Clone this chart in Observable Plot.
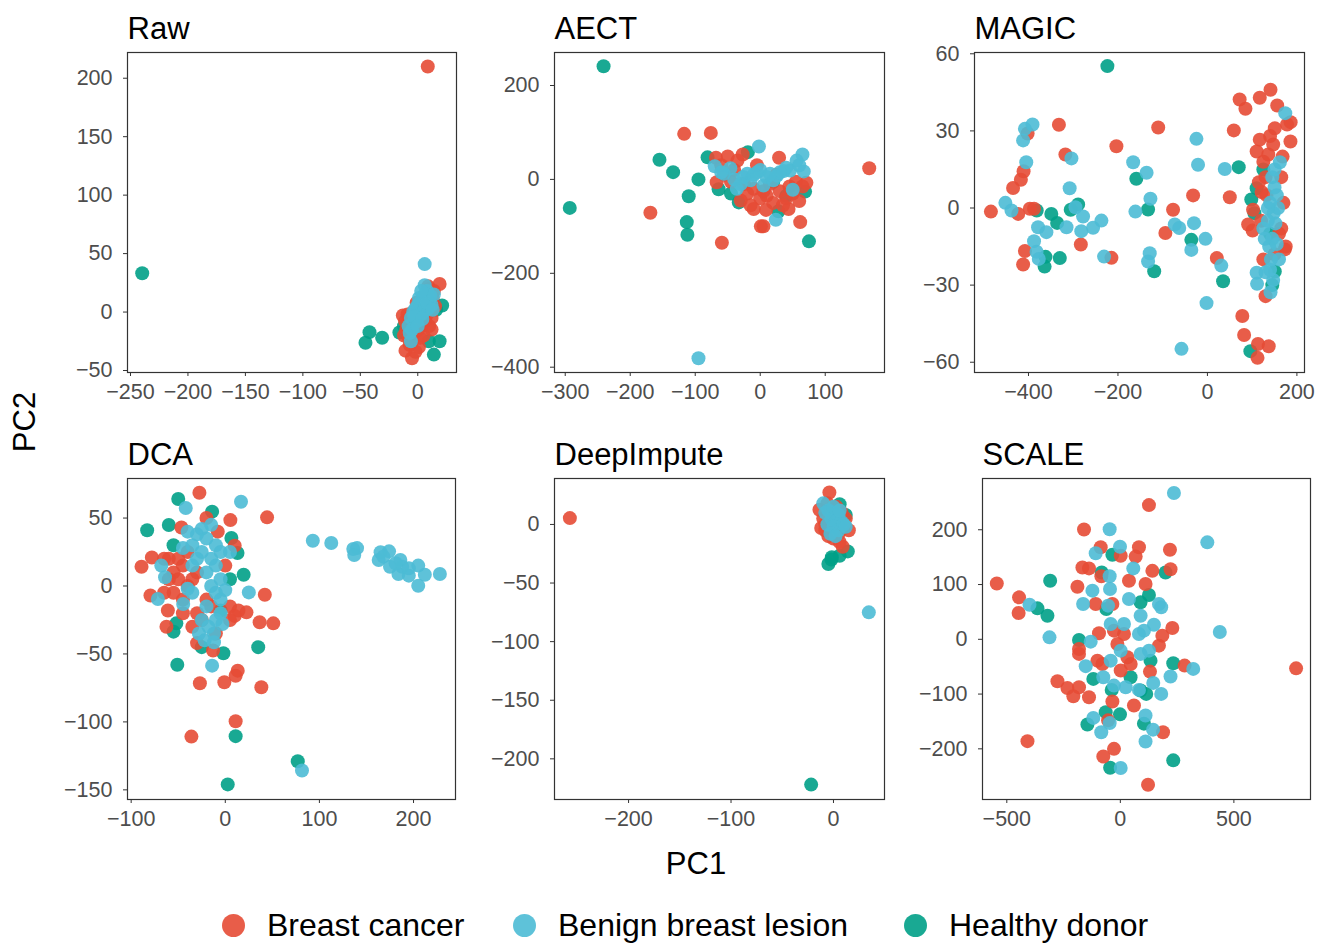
<!DOCTYPE html>
<html>
<head>
<meta charset="utf-8">
<script src="https://cdn.jsdelivr.net/npm/d3@7"></script>
<script src="https://cdn.jsdelivr.net/npm/@observablehq/plot@0.6"></script>
<style>
  html, body { margin: 0; padding: 0; background: #fff; }
  #root { position: relative; width: 1334px; height: 944px; background: #fff; font-family: "Liberation Sans", Arial, sans-serif; overflow: hidden; }
  .panel { position: absolute; }
  .axis-title { position: absolute; font-size: 31px; color: #000; white-space: nowrap; }
  .legend-item { position: absolute; top: 905px; height: 40px; display: flex; align-items: center; font-size: 32px; color: #000; white-space: nowrap; }
  .legend-item .sw { width: 23px; height: 23px; border-radius: 50%; margin-right: 22px; }
</style>
</head>
<body>
<div id="root"></div>
<script>
// ---- groups and colours ----
const groups = ["Breast cancer", "Benign breast lesion", "Healthy donor"];
const groupColors = ["#E64B35", "#4DBBD5", "#00A087"];
const drawOrder = ["Healthy donor", "Breast cancer", "Benign breast lesion"];

// ---- Raw ----
const rawCancer = [[8.7,210],[19,24],[-5,-39.5],[-10.7,-33],[-12,-20],[-10,-15],[-8,-10],[-6,-5],[-13,-3],[-5,-25],[-3,-18],[-2,-8],[0,-3],[2,2],[4,5],[6,10],[8,15],[10,20],[12,-5],[10,-12],[-9,-2],[-4,0],[3,-12],[5,-20],[-7,-28],[1,-30],[8,-2],[11,8],[13,12],[-1,8],[6,-8],[9,22],[14,18],[-11,-8],[2,-22],[0,-15],[15,5],[-8,-22],[-2,-34],[12,-15]];
const rawBenign = [[6,41],[-6,-25],[-8,-12],[-6,-5],[-4,0],[-2,3],[0,6],[2,8],[4,12],[6,15],[8,18],[10,10],[7,5],[3,-2],[-1,-8],[5,0],[9,3],[12,6],[6,23],[11,14],[1,12],[-3,-4],[4,-6],[8,8],[-5,-15],[13,2],[14,15],[-7,-18],[0,-12],[3,18]];
const rawHealthy = [[-239.8,33.2],[-42,-17.2],[-45.5,-26.3],[-31,-22],[-16,-17.5],[21.2,5.6],[19,-25],[9.6,-25],[14,-36.4],[16,2],[-12,-12]];

// ---- AECT ----
const aectCancer = [[167.7,23.7],[-117,97],[-76,99],[-169,-71],[-59,-135],[61.5,-91],[29,46],[5,-100],[1,-100],[43.6,-63],[60,-46],[71,-7],[-10,-63],[9,-65],[-68,46],[-50,49],[-27,53],[-67,-6],[-60,30],[-40,20],[-35,40],[-20,-30],[-10,-20],[0,-40],[10,-35],[20,-50],[30,-25],[40,-40],[50,-30],[55,-5],[-25,-10],[-5,30],[15,-10],[25,10],[-45,-5],[-30,-45],[35,-55],[-15,-55],[5,-25],[45,-15],[-55,10],[65,-15]];
const aectBenign = [[-95,-381],[-2,70],[65,53],[24,-86],[50,-22],[-70,28],[-46,24],[-20,12],[-5,15],[10,5],[26,8],[46,19],[67,17],[56,40],[-36,-20],[5,-13],[-15,-2],[-56,12],[36,18],[-26,5],[20,-2],[-60,15],[0,20],[-30,-10],[60,30],[40,25],[-10,10],[30,15],[-40,0],[15,12]];
const aectHealthy = [[-241,241],[-293,-60.7],[-155,42],[-134,15.4],[-95,0],[-110,-36],[-113,-91],[-112,-118],[75,-132],[-81,47],[-64,-21],[-33,-49],[-19,58],[69,-26],[28,-68],[20,-5],[40,-35],[-45,-30]];

// ---- MAGIC ----
const magicCancer = [[-484,-1.4],[-423,-2.3],[-434.5,7.8],[-417,11],[-411,14.3],[-402,29],[-397,-0.3],[-387.6,-0.3],[-408,-16.7],[-412,-22],[-332,32.4],[-317.5,20.8],[-283,-14.2],[-214.6,-19.4],[-203.5,24],[-110,31.3],[-76.8,-0.7],[-94,-9.7],[-32,4.9],[21,-19.5],[50,4.2],[59,30.2],[72,42.2],[85,38.6],[117,42.9],[141,46],[156,39.9],[178,32.5],[186,33.4],[150.6,31],[185.6,25.9],[117,26.6],[147,24.7],[136,20.8],[91,-6.4],[101,-8.8],[78,-42],[82,-49.4],[113,-52.9],[137,-53.8],[112,-58.3],[130,-34.3],[173,-16.1],[121,6.2],[102,-0.7],[125,18],[130,12],[165,12],[170,2],[175,-15],[160,-10],[120,-5],[115,10],[140,28],[168,20],[125,-20],[150,-18],[165,-8],[110,22],[132,5]];
const magicBenign = [[-451.7,2],[-438,-1],[-405,17.8],[-412,26.3],[-408,30.8],[-391,32.5],[-378.6,-7.5],[-360,-9.4],[-387.6,-12.9],[-382,-17],[-377,-19.8],[-304,19.3],[-308,7.7],[-315,-7.5],[-295,0.3],[-278,-3.3],[-282,-9],[-255.6,-7.7],[-237,-4.9],[-231,-18.9],[-166,17.8],[-136,13.7],[-127.4,3.6],[-161,-1.4],[-129,-17.6],[-132.7,-20.8],[-73,-6.4],[-63,-7.8],[-30,-5.9],[-36,-16.3],[-24.6,26.9],[-21,16.8],[-4.5,-12],[-2,-37],[-58,-54.8],[31,-22.4],[38.8,15.2],[174,36.9],[162,17.8],[141,-32.8],[110,-25.2],[111,-29.5],[145,12],[150,8],[155,5],[140,2],[148,-2],[152,-6],[135,-5],[145,-12],[138,-15],[142,-20],[130,-25],[158,0],[150,15],[135,0],[125,-8],[160,-20],[128,-12],[147,-28],[140,-24],[155,-14]];
const magicHealthy = [[-223.6,55.2],[-381.6,-1],[-362,-19],[-364,-22.8],[-330,-19.5],[-349,-2.3],[-336,-5.8],[-305.6,-0.7],[-289,1.4],[-159,11.4],[-132.7,-0.6],[-119,-24.6],[-36,-12.4],[35,-28.5],[70,15.9],[96,-55.7],[150.6,-24.7],[110,7.7],[98,3.3],[105,-2],[140,-10],[145,-30],[125,15]];

// ---- DCA ----
const dcaCancer = [[-27.5,68.6],[5.4,48.5],[44.4,50.5],[-46.6,43],[10,29.7],[-89,14.2],[-78,21],[-79.5,-7],[-62.5,-30],[-61,-18],[42,-6.4],[51,-27.5],[36.5,-26.7],[22.5,-19.4],[14,-18],[-30,-42],[-13,-47.5],[11,-66],[13.2,-62.3],[38.3,-74.5],[-27,-71.6],[-1,-70.8],[11,-99.5],[-36,-110.8],[-60,20],[-55,10],[-50,5],[-45,15],[-40,0],[-55,-5],[-50,20],[-45,-10],[-35,5],[-60,5],[-65,-5],[-40,25],[-30,-20],[-20,-10],[-25,-25],[-35,-30],[-10,-35],[5,-15],[0,15],[5,-25],[-8,40],[-20,50],[10,-22],[-45,-20],[-30,10],[-65,20],[-15,-15]];
const dcaBenign = [[93,33.3],[112.6,31.6],[136,27.2],[140,27.9],[137,22.8],[165,24.8],[174,25.5],[163,19.1],[168,21.6],[175,14.2],[186,19.1],[188,14.2],[184,8.8],[195,7.6],[205,15],[212,8.3],[228,8.8],[205,0.2],[195,13],[181,16.7],[81.5,-135.8],[-14,-58.6],[-12,-41.4],[25,-4.7],[-71.6,-9.6],[-44.7,-13.2],[-68,15],[-64,6.4],[-42,57.4],[16.7,62],[-40,40],[-35,30],[-30,38],[-25,42],[-20,35],[-15,45],[-10,30],[-5,25],[-25,25],[-30,20],[-15,20],[-10,15],[-20,10],[-35,15],[-5,5],[-15,0],[-10,-5],[-5,-10],[-20,-15],[-25,-25],[-18,-30],[-10,-25],[-5,-20],[-28,-35],[-22,-40],[-35,-5],[-45,28],[0,-3],[5,25],[-40,-2],[-12,-35],[-3,-28]];
const dcaHealthy = [[-83,41],[-60,44.9],[-50,64],[-14,54.7],[6.5,35.3],[13,24.3],[19.5,8.3],[-52,-27.5],[-55,-33.6],[-51,-58],[35,-45],[-2,-49.5],[11,-110.5],[2.6,-146],[77,-129],[-55,30],[-5,-18],[-25,-45],[5,5]];

// ---- DeepImpute ----
const diCancer = [[-257.3,5.4],[-4,27.3],[-13.7,12.5],[9,-19],[-10,5],[-8,-5],[-5,-10],[0,-12],[5,-8],[10,-3],[12,5],[8,10],[3,15],[-3,10],[-8,0],[15,-5],[-6,18],[6,-15],[-12,-3],[2,2]];
const diBenign = [[34.5,-75],[-10,18],[-5,12],[0,10],[5,8],[-2,5],[3,3],[8,2],[-6,0],[0,-2],[5,-5],[-3,-8],[2,-10],[10,0],[12,-2],[-8,10],[0,15],[6,12]];
const diHealthy = [[-21.8,-222],[6,17.3],[-5,-33.8],[-1.6,-28],[6,-26.7],[14,-23],[-2,-30],[12,8],[-6,-5]];

// ---- SCALE ----
const scaleCancer = [[126,245],[-160,200.6],[-544,102],[-446,76.6],[-448,48],[-409,-186],[774,-53],[-277,-76.6],[-233,-88.8],[-207,-104],[-182,-87.5],[-138,-105.8],[-75,-214],[-28,-200],[122,-265.6],[188,-169.6],[-54,-148],[-35,-113.7],[60,-121],[130.5,-59],[283,-48],[170,-11.6],[185,6.7],[229,20.7],[218.5,163.5],[141,125],[221,128],[111,101],[82,168],[67.4,151],[1.5,152.6],[38,107],[-167,131],[-138,129.5],[-86.5,168],[-83.6,115],[-108.5,64.4],[-35,64.4],[-189,96],[-94,11],[-182,-17.6],[-182,-26.7],[-13,-8.5],[16,9.7],[45.5,-45],[-79,-45],[1.5,-57],[-101,-39],[31,-32.8],[-28,15.8]];
const scaleBenign = [[236,267],[-47,201],[383,177],[-400,63],[-312,3.6],[438,13.4],[1.5,-235],[111,-186.6],[144,-165],[111,-139],[-84,-169.6],[-47,-153],[-119,-143.5],[180,-99.7],[145,-79.6],[221,-68],[321,-54],[-108.5,157],[-1.5,169],[57,129.5],[-47,115],[-123,88.8],[-164,64.4],[-45.5,91.8],[-54,61.4],[38,73.6],[89.4,43],[170,64.4],[180,58.4],[148,26.7],[82,9.7],[104,15.8],[-130.5,-4.3],[-152.5,-49],[-75,-69.3],[-28,-84.5],[23.5,-87.5],[82,-92.4],[-42.5,-39],[1.5,-20.7],[89.4,-26.7],[126,-20.7],[16,28],[-42.5,28]];
const scaleHealthy = [[-365,56.5],[-321,43],[-309,107],[-45,-234.6],[233,-221],[104,-154],[-145,-155.6],[-1.5,-137],[-64.5,-133],[114,-99.7],[233,-43.8],[-35,154.4],[-82,122],[199,122],[126,81],[89,67.5],[-61.6,55.3],[-182,-1.2],[133,-39],[-119,-72.3],[-38,-92.4],[45,-69.3],[89,-93.6]];

// ---- panel definitions: titles, domains, ticks ----
const titles = ["Raw", "AECT", "MAGIC", "DCA", "DeepImpute", "SCALE"];
const xDomains = [[-252.6,33.7],[-316.5,191.2],[-520.7,217],[-103.9,244.6],[-272.3,49.8],[-607,837.4]];
const yDomains = [[-51.7,222],[-411.3,270.3],[-64,60.5],[-157.1,79.1],[-234.7,39.2],[-292.5,293.6]];
const xTicks = [[-250,-200,-150,-100,-50,0],[-300,-200,-100,0,100],[-400,-200,0,200],[-100,0,100,200],[-200,-100,0],[-500,0,500]];
const yTicks = [[-50,0,50,100,150,200],[-400,-200,0,200],[-60,-30,0,30,60],[-150,-100,-50,0,50],[-200,-150,-100,-50,0],[-200,-100,0,100,200]];
const panelData = [
  [rawCancer, rawBenign, rawHealthy],
  [aectCancer, aectBenign, aectHealthy],
  [magicCancer, magicBenign, magicHealthy],
  [dcaCancer, dcaBenign, dcaHealthy],
  [diCancer, diBenign, diHealthy],
  [scaleCancer, scaleBenign, scaleHealthy]
];

// layout (frame boxes in page pixels)
const frames = [
  {left:127, top:52, w:329, h:320},
  {left:554, top:52, w:330, h:320},
  {left:974, top:52, w:330, h:320},
  {left:127, top:478, w:328, h:321},
  {left:554, top:478, w:330, h:321},
  {left:982, top:478, w:328, h:321}
];
const M = {left: 80, right: 10, top: 50, bottom: 40};

const root = document.getElementById("root");
const fontFamily = "'Liberation Sans', Arial, Helvetica, sans-serif";

titles.forEach((title, i) => {
  const [c, b, h] = panelData[i];
  const rows = [];
  const byGroup = {"Breast cancer": c, "Benign breast lesion": b, "Healthy donor": h};
  drawOrder.forEach(g => byGroup[g].forEach(([x, y]) => rows.push({x, y, g})));
  const f = frames[i];
  const chart = Plot.plot({
    width: f.w + M.left + M.right,
    height: f.h + M.top + M.bottom,
    marginLeft: M.left, marginRight: M.right, marginTop: M.top, marginBottom: M.bottom,
    style: {fontFamily, background: "transparent", overflow: "visible"},
    x: {domain: xDomains[i], label: null},
    y: {domain: yDomains[i], label: null},
    color: {domain: groups, range: groupColors},
    marks: [
      Plot.dot(rows, {x: "x", y: "y", fill: "g", r: 7, fillOpacity: 0.9, stroke: "none"}),
      Plot.frame({stroke: "#333", strokeWidth: 1.2}),
      Plot.axisX({ticks: xTicks[i], tickSize: 4, tickPadding: 7, fontSize: 21.5, stroke: "#333", fill: "#4D4D4D", label: null}),
      Plot.axisY({ticks: yTicks[i], tickSize: 4, tickPadding: 11, fontSize: 21.5, stroke: "#333", fill: "#4D4D4D", label: null}),
      Plot.text([title], {frameAnchor: "top-left", text: d => d, dy: -14, lineAnchor: "bottom", textAnchor: "start", fontSize: 31, fill: "#000"})
    ]
  });
  chart.classList.add("panel");
  chart.style.left = (f.left - M.left) + "px";
  chart.style.top = (f.top - M.top) + "px";
  root.appendChild(chart);
});

// axis titles
const pc1 = document.createElement("div");
pc1.className = "axis-title";
pc1.textContent = "PC1";
pc1.style.left = "696px"; pc1.style.top = "864px";
pc1.style.transform = "translate(-50%, -50%)";
root.appendChild(pc1);

const pc2 = document.createElement("div");
pc2.className = "axis-title";
pc2.textContent = "PC2";
pc2.style.left = "25px"; pc2.style.top = "422px";
pc2.style.transform = "translate(-50%, -50%) rotate(-90deg)";
root.appendChild(pc2);

// legend
const legendLeft = [222, 513, 904];
groups.forEach((g, i) => {
  const item = document.createElement("div");
  item.className = "legend-item";
  item.style.left = legendLeft[i] + "px";
  const sw = document.createElement("span");
  sw.className = "sw";
  sw.style.background = groupColors[i];
  sw.style.opacity = 0.9;
  const t = document.createElement("span");
  t.textContent = g;
  item.appendChild(sw); item.appendChild(t);
  root.appendChild(item);
});
</script>
</body>
</html>
